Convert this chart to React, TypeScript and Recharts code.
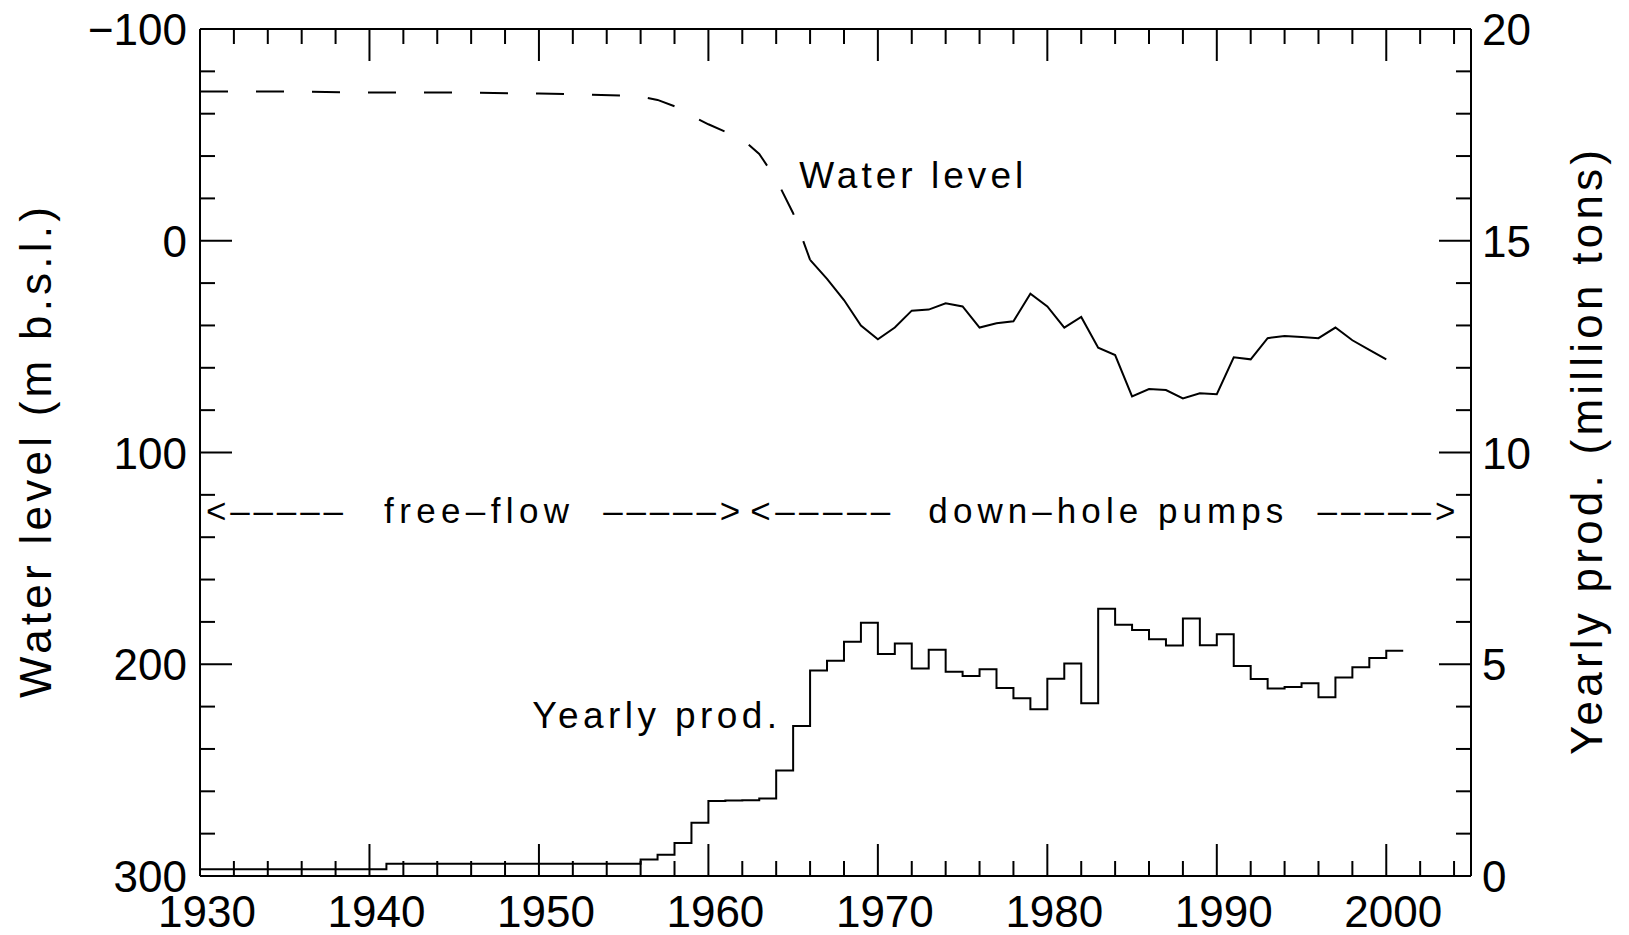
import React from "react";
import { ComposedChart, Line, XAxis, YAxis, ReferenceDot } from "recharts";

const FONT = "'Liberation Sans', Arial, Helvetica, sans-serif";
const INK = "#000";

// water level (m below sea level) - early, dashed part of the record
const earlyYears = [1930, 1935, 1940, 1945, 1950, 1953, 1955, 1956, 1957, 1958, 1959, 1960, 1961, 1962, 1963, 1964, 1965, 1966];
const earlyLevel = [-70.5, -70.5, -70, -70, -69.5, -69, -68.5, -68, -66.5, -63.5, -59, -55, -51.5, -48, -41, -29, -13, 9];

// water level - measured, solid part
const obsYears = [
  1966, 1967, 1968, 1969, 1970, 1971, 1972, 1973, 1974, 1975, 1976, 1977,
  1978, 1979, 1980, 1981, 1982, 1983, 1984, 1985, 1986, 1987, 1988, 1989,
  1990, 1991, 1992, 1993, 1994, 1995, 1996, 1997, 1998, 1999, 2000
];
const obsLevel = [
  9, 18, 28, 40, 46.5, 41, 33, 32.5, 29.5, 31, 41, 39,
  38, 25, 31, 41, 36, 50.5, 54, 73.5, 70, 70.5, 74.5, 72,
  72.5, 55, 56, 46, 45, 45.5, 46, 41, 47, 51.5, 56
];

// yearly production (million tons), value holds from that year on
const prodYears = [
  1930, 1941, 1956, 1957, 1958, 1959, 1960, 1961, 1962, 1963, 1964, 1965,
  1966, 1967, 1968, 1969, 1970, 1971, 1972, 1973, 1974, 1975, 1976, 1977,
  1978, 1979, 1980, 1981, 1982, 1983, 1984, 1985, 1986, 1987, 1988, 1989,
  1990, 1991, 1992, 1993, 1994, 1995, 1996, 1997, 1998, 1999, 2000, 2001
];
const prodValues = [
  0.16, 0.29, 0.39, 0.5, 0.78, 1.26, 1.77, 1.78, 1.79, 1.83, 2.49, 3.54,
  4.85, 5.08, 5.53, 5.98, 5.24, 5.49, 4.9, 5.34, 4.82, 4.72, 4.88, 4.44,
  4.2, 3.94, 4.66, 5.02, 4.08, 6.31, 5.93, 5.81, 5.59, 5.44, 6.08, 5.45,
  5.71, 4.96, 4.65, 4.43, 4.46, 4.55, 4.22, 4.69, 4.93, 5.15, 5.32, 5.32
];

const xMajor = [1930, 1940, 1950, 1960, 1970, 1980, 1990, 2000];
const leftMajor = [-100, 0, 100, 200, 300];
const rightMajor = [0, 5, 10, 15, 20];

const range = (a: number, b: number, step: number) => {
  const out: number[] = [];
  for (let v = a; v <= b + 1e-9; v += step) out.push(v);
  return out;
};
const xTicks = range(1930, 2004, 2);
const leftTicks = range(-100, 300, 20);
const rightTicks = range(0, 20, 1);

const earlyData = earlyYears.map((year, i) => ({ year, level: earlyLevel[i] }));
const obsData = obsYears.map((year, i) => ({ year, level: obsLevel[i] }));
const prodData = prodYears.map((year, i) => ({ year, prod: prodValues[i] }));

const MAJOR = 32;
const MINOR = 15;
const NUM = 44;

const fmt = (v: number) => (v < 0 ? "\u2212" + Math.abs(v) : String(v));

function BottomTick({ x, y, payload }: any) {
  const major = xMajor.includes(payload.value);
  return (
    <g>
      <line x1={x} y1={y} x2={x} y2={y - (major ? MAJOR : MINOR)} stroke={INK} strokeWidth={2} />
      {major && (
        <text x={x + 7} y={y + 51} textAnchor="middle" fontSize={NUM} fontFamily={FONT} fill={INK}>
          {payload.value}
        </text>
      )}
    </g>
  );
}

function TopTick({ x, y, payload }: any) {
  const major = xMajor.includes(payload.value);
  return <line x1={x} y1={y} x2={x} y2={y + (major ? MAJOR : MINOR)} stroke={INK} strokeWidth={2} />;
}

function LeftTick({ x, y, payload }: any) {
  const major = leftMajor.includes(payload.value);
  return (
    <g>
      <line x1={x} y1={y} x2={x + (major ? MAJOR : MINOR)} y2={y} stroke={INK} strokeWidth={2} />
      {major && (
        <text x={x - 13} y={y + 16} textAnchor="end" fontSize={NUM} fontFamily={FONT} fill={INK}>
          {fmt(payload.value)}
        </text>
      )}
    </g>
  );
}

function RightTick({ x, y, payload }: any) {
  const major = rightMajor.includes(payload.value);
  return (
    <g>
      <line x1={x} y1={y} x2={x - (major ? MAJOR : MINOR)} y2={y} stroke={INK} strokeWidth={2} />
      {major && (
        <text x={x + 11} y={y + 16} textAnchor="start" fontSize={NUM} fontFamily={FONT} fill={INK}>
          {payload.value}
        </text>
      )}
    </g>
  );
}

const axisTitle = (text: string, offset: number, len: number) => (p: any) => {
  const vb = p.viewBox;
  const cx = vb.x + offset;
  const cy = vb.y + vb.height / 2;
  return (
    <text
      x={cx}
      y={cy}
      transform={`rotate(-90 ${cx} ${cy})`}
      textAnchor="middle"
      fontSize={44}
      fontFamily={FONT}
      fill={INK}
      textLength={len}
      lengthAdjust="spacing"
    >
      {text}
    </text>
  );
};

// in-plot annotations, anchored in data coords (year, m)
const notes = [
  { text: "Water level", year: 1965.36, level: -24.9, len: 224, size: 37 },
  { text: "Yearly prod.", year: 1949.6, level: 230.1, len: 245, size: 37 },
  { text: "<\u2013\u2013\u2013\u2013\u2013", year: 1930.35, level: 133.3, len: 137, size: 35 },
  { text: "free\u2013flow", year: 1940.86, level: 133.3, len: 185, size: 35 },
  { text: "\u2013\u2013\u2013\u2013\u2013>", year: 1953.79, level: 133.3, len: 137, size: 35 },
  { text: "<\u2013\u2013\u2013\u2013\u2013", year: 1962.47, level: 133.3, len: 140, size: 35 },
  { text: "down\u2013hole pumps", year: 1972.98, level: 133.3, len: 355, size: 35 },
  { text: "\u2013\u2013\u2013\u2013\u2013>", year: 1995.94, level: 133.3, len: 138, size: 35 }
];

export default function App() {
  const axisLine = { stroke: INK, strokeWidth: 2 };
  return (
    <div style={{ position: "absolute", left: 0, top: 0, background: "#fff" }}>
      <ComposedChart width={1629} height={935} margin={{ top: 0, right: 0, bottom: 0, left: 0 }}>
        <XAxis
          xAxisId="bottom"
          dataKey="year"
          type="number"
          domain={[1930, 2005]}
          ticks={xTicks}
          interval={0}
          height={59}
          tickSize={0}
          tickMargin={0}
          tickLine={false}
          axisLine={axisLine}
          tick={<BottomTick />}
          allowDataOverflow
        />
        <XAxis
          xAxisId="top"
          orientation="top"
          dataKey="year"
          type="number"
          domain={[1930, 2005]}
          ticks={xTicks}
          interval={0}
          height={29}
          tickSize={0}
          tickMargin={0}
          tickLine={false}
          axisLine={axisLine}
          tick={<TopTick />}
          allowDataOverflow
        />
        <YAxis
          yAxisId="left"
          type="number"
          domain={[-100, 300]}
          reversed
          ticks={leftTicks}
          interval={0}
          width={200}
          tickSize={0}
          tickMargin={0}
          tickLine={false}
          axisLine={axisLine}
          tick={<LeftTick />}
          allowDataOverflow
          label={axisTitle("Water level (m b.s.l.)", 51, 491)}
        />
        <YAxis
          yAxisId="right"
          orientation="right"
          type="number"
          domain={[0, 20]}
          ticks={rightTicks}
          interval={0}
          width={158}
          tickSize={0}
          tickMargin={0}
          tickLine={false}
          axisLine={axisLine}
          tick={<RightTick />}
          allowDataOverflow
          label={axisTitle("Yearly prod. (million tons)", 131, 605)}
        />
        <Line
          data={earlyData}
          xAxisId="bottom"
          yAxisId="left"
          dataKey="level"
          type="linear"
          stroke={INK}
          strokeWidth={2}
          strokeDasharray="28 28"
          dot={false}
          activeDot={false}
          isAnimationActive={false}
        />
        <Line
          data={obsData}
          xAxisId="bottom"
          yAxisId="left"
          dataKey="level"
          type="linear"
          stroke={INK}
          strokeWidth={2}
          dot={false}
          activeDot={false}
          isAnimationActive={false}
        />
        <Line
          data={prodData}
          xAxisId="bottom"
          yAxisId="right"
          dataKey="prod"
          type="stepAfter"
          stroke={INK}
          strokeWidth={2}
          dot={false}
          activeDot={false}
          isAnimationActive={false}
        />
        {notes.map((n, i) => (
          <ReferenceDot
            key={i}
            xAxisId="bottom"
            yAxisId="left"
            x={n.year}
            y={n.level}
            r={0}
            fill="none"
            stroke="none"
            label={(p: any) => (
              <text
                x={p.viewBox.x}
                y={p.viewBox.y}
                fontSize={n.size}
                fontFamily={FONT}
                fill={INK}
                textLength={n.len}
                lengthAdjust="spacing"
              >
                {n.text}
              </text>
            )}
          />
        ))}
      </ComposedChart>
    </div>
  );
}
